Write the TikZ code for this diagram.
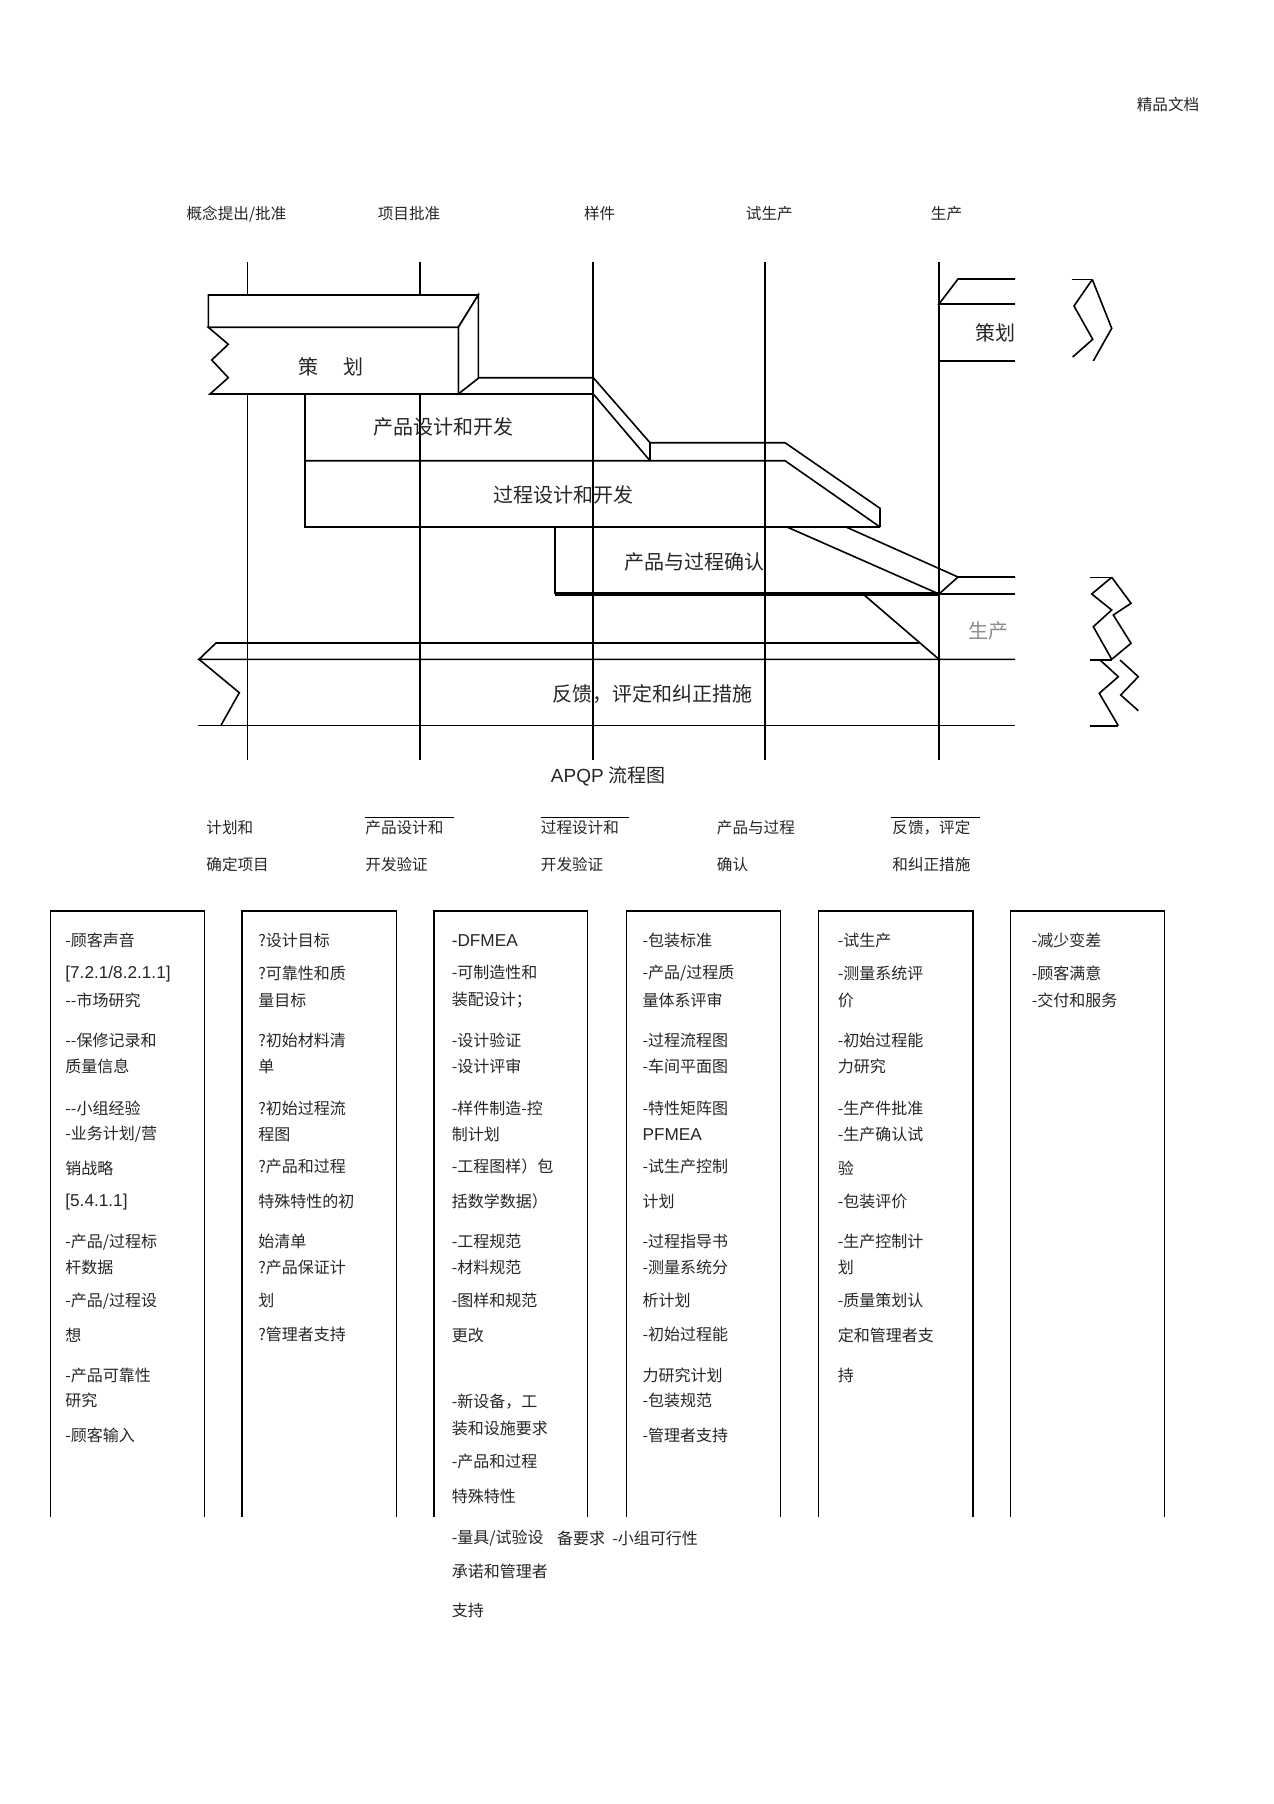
\documentclass[tikz,border=0pt]{standalone}
\usepackage{fontspec}
\setmainfont{Noto Sans CJK SC}
\newfontfamily\arialf{Liberation Sans}
\tikzset{
  ln/.style={line width=0.8pt, black},
  thinln/.style={line width=0.6pt, black},
  boxln/.style={line width=0.75pt, black},
  bt/.style={anchor=west, inner sep=0pt, font=\fontsize{8pt}{9pt}\selectfont, text=black!85},
  hd/.style={inner sep=0pt, font=\fontsize{7.8pt}{9pt}\selectfont, text=black!85},
  bar/.style={inner sep=0pt, font=\fontsize{10pt}{12pt}\selectfont, text=black!85},
}
\newcommand{\bxl}[4]{\node[bt] (#1) at (#2,#3) {#4};}
\newcommand{\ar}[1]{{\arialf\fontsize{8.6pt}{9pt}\selectfont #1}}
\begin{document}
\begin{tikzpicture}[x=0.5pt,y=-0.5pt]
\useasboundingbox (0,0) rectangle (1274,1804);
\fill[white] (0,0) rectangle (1274,1804);

% header
\node[hd] (top) at (1168,105) {精品文档};
\node[hd] (h1) at (236.5,214) {概念提出/批准};
\node[hd] (h2) at (409,214) {项目批准};
\node[hd] (h3) at (599.6,214) {样件};
\node[hd] (h4) at (769.3,214) {试生产};
\node[hd] (h5) at (946.5,214) {生产};

% vertical milestone lines
\foreach \xx [count=\i] in {247.5,420,593,765,939}
  \draw[ln] (\xx,262) coordinate (vt\i) -- (\xx,760) coordinate (vb\i);

% planning block (3D, white)
\filldraw[ln, fill=white] (208.3,295) -- (478.3,295) -- (458.3,327.3) -- (208.3,327.3) -- cycle;
\filldraw[ln, fill=white] (458.3,327.3) -- (478.3,295) -- (478.3,378.3) -- (458.3,394) -- cycle;
\filldraw[ln, fill=white] (208.3,327.3) -- (458.3,327.3) -- (458.3,394) -- (210,394) -- (228.3,377.7) -- (211.7,360) -- (228.3,344.3) -- cycle;
\node[bar] (plan) at (331.3,366.7) {策\hspace{12.5pt}划};

% product design & process design
\draw[ln] (478.3,377.7) -- (593.3,377.7) -- (650,442.7) -- (785,442.7) -- (880,508.3) -- (880,527);
\draw[ln] (458.3,394) -- (593.3,394) -- (650,460.7);
\draw[ln] (650,442.7) -- (650,460.7);
\draw[ln] (305,394) -- (305,527) -- (880,527);
\draw[ln] (305,460.7) -- (785,460.7) -- (880,527);
\node[bar] (pdd) at (443.3,426.7) {产品设计和开发};
\node[bar] (prd) at (563.3,494.5) {过程设计和开发};

% validation
\draw[ln] (554.7,527) -- (554.7,594);
\draw[line width=1.6pt] (554.7,594) -- (939,594);
\draw[ln] (939,594) -- (1015,594);
\draw[ln] (787,527) -- (939,594) -- (958,577) -- (1015,577);
\draw[ln] (846,527) -- (958,577);
\draw[ln] (863,594) -- (939,659.3);
\node[bar] (val) at (694.8,561.7) {产品与过程确认};
\node[bar, text=black!45] (prod) at (988.3,631) {生产};

% feedback bar
\draw[ln] (919,643) -- (216,643) -- (199,659.3) -- (1015,659.3);
\draw[ln] (199,659.3) -- (239.3,692.7) -- (221,725.3);
\draw[ln] (198,725.3) -- (1015,725.3);
\node[bar] (fb) at (652,694) {反馈，评定和纠正措施};

% right planning block
\draw[ln] (1015,304) -- (939,304) -- (958,279) -- (1015,279);
\draw[ln] (939,361) -- (1015,361);
\node[bar] (plan2) at (995,333) {策划};

% torn ends on the right
\draw[ln] (1071.7,279.5) -- (1092.3,279.5);
\draw[ln] (1092.3,279.5) -- (1074,306) -- (1092.7,339.3) -- (1072.7,357);
\draw[ln] (1092.3,279.5) -- (1111.7,328.3) -- (1093.3,361);

\draw[ln] (1090,577.3) -- (1111.7,577.3);
\draw[ln] (1111.7,577.3) -- (1091.7,594) -- (1111.7,610) -- (1093.3,626.7) -- (1111.7,659.3);
\draw[ln] (1111.7,577.3) -- (1131,603.3) -- (1113.3,615) -- (1131,643.3) -- (1111.7,659.3);
\draw[ln] (1090,660) -- (1111.7,660);
\draw[ln] (1100,660) -- (1118.3,676.7) -- (1099.3,693.3) -- (1118.3,725.7);
\draw[ln] (1120,660) -- (1138.3,676.7) -- (1120.7,695) -- (1138.3,710.7);
\draw[ln] (1090,725.7) -- (1118.3,725.7);

% title
\node[inner sep=0pt, font=\fontsize{9.5pt}{11pt}\selectfont, text=black!85] (title) at (608,776) {{\arialf APQP} 流程图};

% phase labels
\node[hd, anchor=west] (l1a) at (206,827.4) {计划和};
\node[hd, anchor=west] (l1b) at (206,864.3) {确定项目};
\node[hd, anchor=west] (l2a) at (365,827.4) {产品设计和};
\node[hd, anchor=west] (l2b) at (365,864.3) {开发验证};
\node[hd, anchor=west] (l3a) at (540.5,827.4) {过程设计和};
\node[hd, anchor=west] (l3b) at (540.5,864.3) {开发验证};
\node[hd, anchor=west] (l4a) at (716.5,827.4) {产品与过程};
\node[hd, anchor=west] (l4b) at (716.5,864.3) {确认};
\node[hd, anchor=west] (l5a) at (892,827.4) {反馈，评定};
\node[hd, anchor=west] (l5b) at (892,864.3) {和纠正措施};
\draw[thinln] (364.8,817.5) -- (453.8,817.5);
\draw[thinln] (540.5,817.5) -- (629,817.5);
\draw[thinln] (890.7,817.5) -- (979.7,817.5);

% column boxes (open at bottom)
\foreach \xa/\xb in {50.5/204.7, 241.8/396.7, 434.2/587.3, 626.3/780.7, 818.3/972.8, 1010.5/1164.7}
  \draw[boxln] (\xa,1517) -- (\xa,911) -- (\xb,911) -- (\xb,1517);

% box 1
\bxl{b1a}{65}{940.7}{-顾客声音}
\bxl{b1b}{65}{974}{\ar{[7.2.1/8.2.1.1]}}
\bxl{b1c}{65}{1000}{-{}-市场研究}
\bxl{b1d}{65}{1040}{-{}-保修记录和}
\bxl{b1e}{65}{1066}{质量信息}
\bxl{b1f}{65}{1108.3}{-{}-小组经验}
\bxl{b1g}{65}{1134.3}{-业务计划/营}
\bxl{b1h}{65}{1168.3}{销战略}
\bxl{b1i}{65}{1201.7}{\ar{[5.4.1.1]}}
\bxl{b1j}{65}{1241.7}{-产品/过程标}
\bxl{b1k}{65}{1267.3}{杆数据}
\bxl{b1l}{65}{1300.7}{-产品/过程设}
\bxl{b1m}{65}{1335}{想}
\bxl{b1n}{65}{1375}{-产品可靠性}
\bxl{b1o}{65}{1400.7}{研究}
\bxl{b1p}{65}{1435}{-顾客输入}

% box 2
\bxl{b2a}{258}{940.7}{?设计目标}
\bxl{b2b}{258}{973.3}{?可靠性和质}
\bxl{b2c}{258}{1000}{量目标}
\bxl{b2d}{258}{1040}{?初始材料清}
\bxl{b2e}{258}{1066.7}{单}
\bxl{b2f}{258}{1108.3}{?初始过程流}
\bxl{b2g}{258}{1134.3}{程图}
\bxl{b2h}{258}{1166.7}{?产品和过程}
\bxl{b2i}{258}{1201.7}{特殊特性的初}
\bxl{b2j}{258}{1241.7}{始清单}
\bxl{b2k}{258}{1267.3}{?产品保证计}
\bxl{b2l}{258}{1300.7}{划}
\bxl{b2m}{258}{1334}{?管理者支持}

% box 3
\bxl{b3a}{451.4}{940.7}{\ar{-DFMEA}}
\bxl{b3b}{451.4}{972.7}{-可制造性和}
\bxl{b3c}{451.4}{1000}{装配设计；}
\bxl{b3d}{451.4}{1040}{-设计验证}
\bxl{b3e}{451.4}{1066}{-设计评审}
\bxl{b3f}{451.4}{1108.3}{-样件制造-控}
\bxl{b3g}{451.4}{1134.3}{制计划}
\bxl{b3h}{451.4}{1166.7}{-工程图样）包}
\bxl{b3i}{451.4}{1201.7}{括数学数据）}
\bxl{b3j}{451.4}{1241.7}{-工程规范}
\bxl{b3k}{451.4}{1267.3}{-材料规范}
\bxl{b3l}{451.4}{1300.7}{-图样和规范}
\bxl{b3m}{451.4}{1335}{更改}
\bxl{b3n}{451.4}{1401.7}{-新设备，工}
\bxl{b3o}{451.4}{1428.3}{装和设施要求}
\bxl{b3p}{451.4}{1461.7}{-产品和过程}
\bxl{b3q}{451.4}{1496.7}{特殊特性}
\bxl{b3r}{451.4}{1538.3}{-量具/试验设}
\bxl{b3s}{556.6}{1538.3}{备要求}
\bxl{b3t}{612}{1538.3}{-小组可行性}
\bxl{b3u}{451.4}{1571.7}{承诺和管理者}
\bxl{b3v}{451.4}{1610}{支持}

% box 4
\bxl{b4a}{642.2}{940.7}{-包装标准}
\bxl{b4b}{642.2}{973.3}{-产品/过程质}
\bxl{b4c}{642.2}{1000}{量体系评审}
\bxl{b4d}{642.2}{1040}{-过程流程图}
\bxl{b4e}{642.2}{1066}{-车间平面图}
\bxl{b4f}{642.2}{1108.3}{-特性矩阵图}
\bxl{b4g}{642.2}{1134.3}{\ar{PFMEA}}
\bxl{b4h}{642.2}{1166.7}{-试生产控制}
\bxl{b4i}{642.2}{1201.7}{计划}
\bxl{b4j}{642.2}{1241.7}{-过程指导书}
\bxl{b4k}{642.2}{1267.3}{-测量系统分}
\bxl{b4l}{642.2}{1300.7}{析计划}
\bxl{b4m}{642.2}{1334}{-初始过程能}
\bxl{b4n}{642.2}{1375}{力研究计划}
\bxl{b4o}{642.2}{1400.7}{-包装规范}
\bxl{b4p}{642.2}{1435}{-管理者支持}

% box 5
\bxl{b5a}{837.4}{940.7}{-试生产}
\bxl{b5b}{837.4}{973.3}{-测量系统评}
\bxl{b5c}{837.4}{1000}{价}
\bxl{b5d}{837.4}{1040}{-初始过程能}
\bxl{b5e}{837.4}{1066}{力研究}
\bxl{b5f}{837.4}{1108.3}{-生产件批准}
\bxl{b5g}{837.4}{1134.3}{-生产确认试}
\bxl{b5h}{837.4}{1168.3}{验}
\bxl{b5i}{837.4}{1201.7}{-包装评价}
\bxl{b5j}{837.4}{1241.7}{-生产控制计}
\bxl{b5k}{837.4}{1267.3}{划}
\bxl{b5l}{837.4}{1300.7}{-质量策划认}
\bxl{b5m}{837.4}{1335}{定和管理者支}
\bxl{b5n}{837.4}{1375}{持}

% box 6
\bxl{b6a}{1031.4}{940.7}{-减少变差}
\bxl{b6b}{1031.4}{973.3}{-顾客满意}
\bxl{b6c}{1031.4}{1000}{-交付和服务}

\end{tikzpicture}
\end{document}
